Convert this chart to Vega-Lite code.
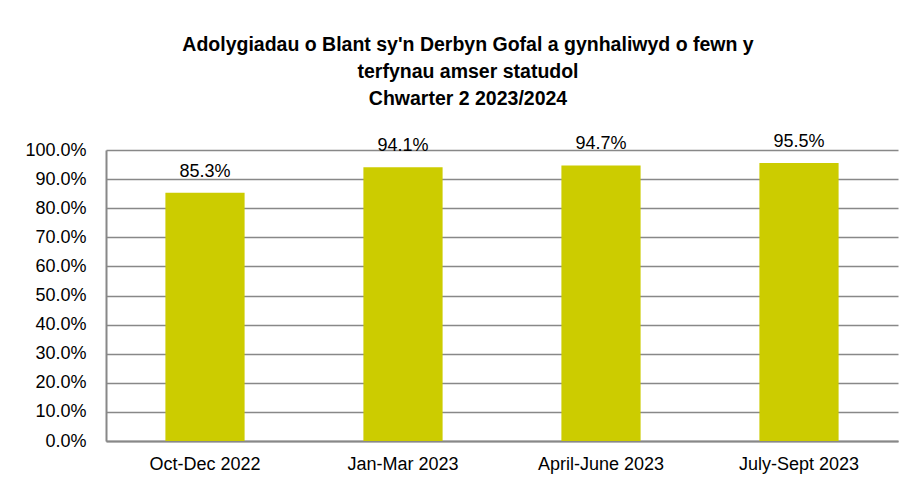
{
  "$schema": "https://vega.github.io/schema/vega-lite/v6.json",
  "width": 792,
  "height": 291,
  "autosize": "none",
  "padding": {"left": 106, "top": 150, "right": 17, "bottom": 49},
  "background": "white",
  "title": {
    "text": ["Adolygiadau o Blant sy'n Derbyn Gofal a gynhaliwyd o fewn y", "terfynau amser statudol", "Chwarter 2 2023/2024"],
    "font": "Liberation Sans",
    "fontSize": 19.5,
    "fontWeight": "bold",
    "color": "black",
    "lineHeight": 27,
    "anchor": "middle",
    "dx": -34,
    "offset": 24
  },
  "data": {
    "values": [
      {"period": "Oct-Dec 2022", "value": 0.853},
      {"period": "Jan-Mar 2023", "value": 0.941},
      {"period": "April-June 2023", "value": 0.947},
      {"period": "July-Sept 2023", "value": 0.955}
    ]
  },
  "encoding": {
    "x": {
      "field": "period",
      "type": "nominal",
      "sort": null,
      "scale": {"paddingInner": 0.6, "paddingOuter": 0.3},
      "axis": {
        "title": null,
        "labelAngle": 0,
        "labelFont": "Liberation Sans",
        "labelFontSize": 18,
        "labelColor": "black",
        "labelPadding": 14,
        "ticks": false,
        "domainColor": "#888888",
        "domainWidth": 2
      }
    },
    "y": {
      "field": "value",
      "type": "quantitative",
      "scale": {"domain": [0, 1], "nice": false},
      "axis": {
        "title": null,
        "format": ".1%",
        "values": [0, 0.1, 0.2, 0.3, 0.4, 0.5, 0.6, 0.7, 0.8, 0.9, 1.0],
        "labelOverlap": false,
        "labelFont": "Liberation Sans",
        "labelFontSize": 18,
        "labelColor": "black",
        "labelPadding": 20,
        "ticks": false,
        "domainColor": "#888888",
        "domainWidth": 2,
        "gridColor": "#888888",
        "gridWidth": 1.5
      }
    }
  },
  "layer": [
    {"mark": {"type": "bar", "color": "#CCCC00"}},
    {
      "mark": {"type": "text", "dy": -21, "font": "Liberation Sans", "fontSize": 18, "color": "black"},
      "encoding": {"text": {"field": "value", "type": "quantitative", "format": ".1%"}}
    }
  ],
  "config": {"view": {"stroke": null}}
}
